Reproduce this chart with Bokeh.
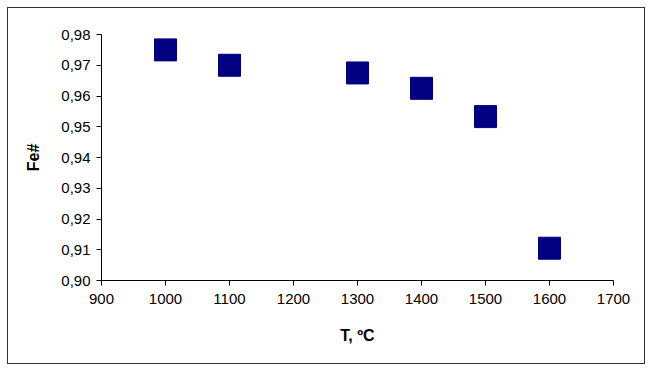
from bokeh.plotting import figure
from bokeh.models import Range1d, FixedTicker, CustomJSTickFormatter
from bokeh.embed import file_html
from bokeh.resources import INLINE

# Data
temps = [1000, 1100, 1300, 1400, 1500, 1600]
fe_num = [0.975, 0.970, 0.9675, 0.9625, 0.9533, 0.9105]

x_ticks = [900, 1000, 1100, 1200, 1300, 1400, 1500, 1600, 1700]
y_ticks = [0.90, 0.91, 0.92, 0.93, 0.94, 0.95, 0.96, 0.97, 0.98]

FONT = "Liberation Sans"

p = figure(width=638, height=357, output_backend="svg", toolbar_location=None,
           x_range=Range1d(900, 1700), y_range=Range1d(0.90, 0.98))
p.min_border_left = 93
p.min_border_top = 26
p.min_border_right = 33
p.min_border_bottom = 85
p.styles = {"border": "1px solid #333333", "margin": "7px 0px 0px 7px"}
p.outline_line_color = None
p.xgrid.visible = False
p.ygrid.visible = False

p.scatter(temps, fe_num, marker="square", size=22,
          fill_color="#000080", line_color="#000080")

for ax in (p.xaxis[0], p.yaxis[0]):
    ax.axis_line_color = "black"
    ax.major_tick_line_color = "black"
    ax.major_tick_in = 0
    ax.major_tick_out = 5
    ax.minor_tick_line_color = None
    ax.major_label_text_font = FONT
    ax.major_label_text_font_size = "15px"
    ax.major_label_text_color = "black"
    ax.axis_label_text_font = FONT
    ax.axis_label_text_font_size = "16px"
    ax.axis_label_text_font_style = "bold"
    ax.axis_label_text_color = "black"

p.xaxis.ticker = FixedTicker(ticks=x_ticks)
p.yaxis.ticker = FixedTicker(ticks=y_ticks)
p.yaxis.formatter = CustomJSTickFormatter(code="return tick.toFixed(2).replace('.', ',');")
p.xaxis.axis_label = "T, ºC"
p.yaxis.axis_label = "Fe#"
p.xaxis.major_label_standoff = 8
p.yaxis.major_label_standoff = 6
p.xaxis.axis_label_standoff = 20
p.yaxis.axis_label_standoff = 16

open("out.html", "w").write(file_html(p, INLINE))
